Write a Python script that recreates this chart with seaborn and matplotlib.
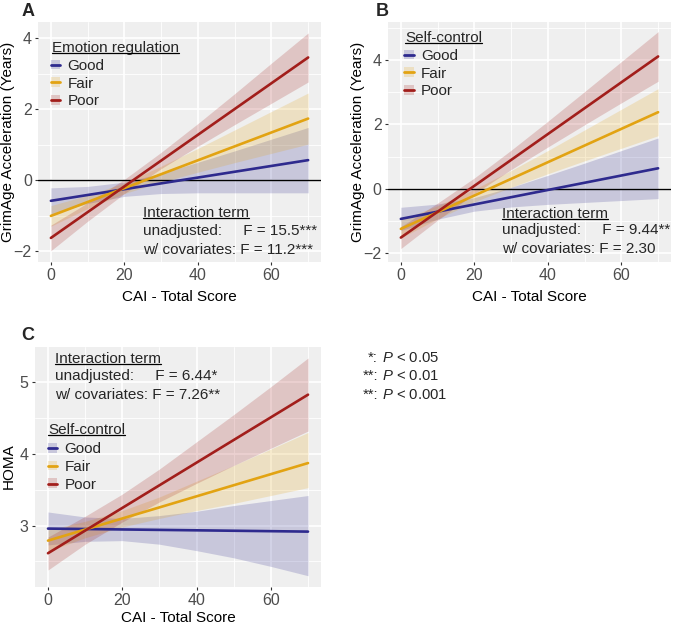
import numpy as np
import pandas as pd
import matplotlib
matplotlib.use("Agg")
import matplotlib.pyplot as plt
import seaborn as sns
from matplotlib.patches import Patch
from matplotlib.lines import Line2D
from matplotlib.ticker import FixedLocator

# ---------------- data ----------------
groups = ["Good", "Fair", "Poor"]
palette = {"Good": "#2E2A8E", "Fair": "#E2A312", "Poor": "#A21E1B"}

x_line = [0, 70]
x_band = [0, 10, 20, 30, 40, 50, 60, 70]

# Panel A: Emotion regulation -> GrimAge acceleration
a_fit = {"Good": [-0.575, 0.57], "Fair": [-1.00, 1.74], "Poor": [-1.62, 3.46]}
a_lo = {"Good": [-0.95, -0.65, -0.45, -0.37, -0.35, -0.35, -0.35, -0.35],
        "Fair": [-1.29, -0.79, -0.37, -0.05, 0.23, 0.50, 0.76, 1.02],
        "Poor": [-1.98, -1.15, -0.37, 0.33, 0.96, 1.57, 2.17, 2.77]}
a_hi = {"Good": [-0.21, -0.17, -0.05, 0.20, 0.51, 0.83, 1.16, 1.49],
        "Fair": [-0.71, -0.42, -0.07, 0.40, 0.90, 1.42, 1.94, 2.46],
        "Poor": [-1.26, -0.63, 0.03, 0.79, 1.60, 2.44, 3.30, 4.15]}

# Panel B: Self-control -> GrimAge acceleration
b_fit = {"Good": [-0.93, 0.64], "Fair": [-1.24, 2.38], "Poor": [-1.51, 4.11]}
b_lo = {"Good": [-1.29, -0.94, -0.69, -0.56, -0.48, -0.42, -0.36, -0.30],
        "Fair": [-1.52, -0.93, -0.40, 0.05, 0.47, 0.87, 1.26, 1.65],
        "Poor": [-1.85, -0.97, -0.15, 0.60, 1.30, 1.99, 2.67, 3.34]}
b_hi = {"Good": [-0.57, -0.47, -0.27, 0.05, 0.42, 0.80, 1.19, 1.58],
        "Fair": [-0.96, -0.52, -0.01, 0.57, 1.19, 1.83, 2.47, 3.11],
        "Poor": [-1.17, -0.44, 0.34, 1.20, 2.10, 3.02, 3.95, 4.88]}

# Panel C: Self-control -> HOMA
c_fit = {"Good": [2.958, 2.916], "Fair": [2.79, 3.873], "Poor": [2.614, 4.828]}
c_lo = {"Good": [2.73, 2.78, 2.79, 2.74, 2.65, 2.55, 2.43, 2.30],
        "Fair": [2.64, 2.83, 2.98, 3.10, 3.21, 3.31, 3.42, 3.53],
        "Poor": [2.38, 2.74, 3.05, 3.33, 3.59, 3.84, 4.08, 4.32]}
c_hi = {"Good": [3.19, 3.12, 3.10, 3.14, 3.20, 3.28, 3.35, 3.42],
        "Fair": [2.94, 3.06, 3.21, 3.40, 3.62, 3.84, 4.07, 4.30],
        "Poor": [2.84, 3.13, 3.44, 3.79, 4.17, 4.55, 4.94, 5.34]}

x_ticks = [0, 20, 40, 60]
x_minor = [10, 30, 50, 70]
ab_yticks = [-2, 0, 2, 4]
c_yticks = [3, 4, 5]

xlabel = "CAI - Total Score"
ylabel_ab = "GrimAge Acceleration (Years)"
ylabel_c = "HOMA"

# ---------------- style ----------------
sns.set_theme(style="darkgrid")
plt.rcParams["font.family"] = ["Liberation Sans", "DejaVu Sans"]
plt.rcParams["mathtext.fontset"] = "custom"
plt.rcParams["mathtext.rm"] = "Liberation Sans"
plt.rcParams["mathtext.it"] = "Liberation Sans:italic"

BG = "#EFEFEF"
FS = 11

fig = plt.figure(figsize=(6.73, 6.27), dpi=100)
axA = fig.add_axes([0.0565, 0.582, 0.4205, 0.383])
axB = fig.add_axes([0.5765, 0.582, 0.4205, 0.383])
axC = fig.add_axes([0.052, 0.0643, 0.425, 0.383])


def draw_panel(ax, fit, lo, hi, ylim, yticks, yminor, hline, ylabel, ylab_x, xpad):
    ax.set_facecolor(BG)
    for g in groups:
        ax.fill_between(x_band, lo[g], hi[g], color=palette[g], alpha=0.2,
                        linewidth=0, zorder=2)
    if hline:
        ax.axhline(0, color="black", lw=1.0, zorder=2.5)
    rows = []
    for g in groups:
        for xv, yv in zip(x_line, fit[g]):
            rows.append({"x": xv, "y": yv, "group": g})
    df = pd.DataFrame(rows)
    sns.lineplot(data=df, x="x", y="y", hue="group", hue_order=groups,
                 palette=palette, lw=1.9, legend=False, ax=ax, zorder=3)
    ax.set_xlim(-3.5, 73.5)
    ax.set_ylim(*ylim)
    ax.xaxis.set_major_locator(FixedLocator(x_ticks))
    ax.xaxis.set_minor_locator(FixedLocator(x_minor))
    ax.yaxis.set_major_locator(FixedLocator(yticks))
    ax.yaxis.set_minor_locator(FixedLocator(yminor))
    ax.grid(which="major", color="white", lw=1.2)
    ax.grid(which="minor", color="white", lw=0.6)
    ax.set_axisbelow(True)
    for s in ax.spines.values():
        s.set_visible(False)
    ax.tick_params(which="major", length=2.5, width=0.8, color="#333333",
                   labelsize=FS + 0.5, labelcolor="#4D4D4D", pad=2,
                   bottom=True, left=True)
    ax.tick_params(which="minor", length=0)
    ax.set_xlabel(xlabel, fontsize=FS, color="black", labelpad=xpad)
    ax.set_ylabel(ylabel, fontsize=FS, color="black")
    ax.yaxis.set_label_coords(ylab_x, 0.5)


draw_panel(axA, a_fit, a_lo, a_hi, (-2.30, 4.46), ab_yticks, [-1, 1, 3], True,
           ylabel_ab, -0.080, 5)
draw_panel(axB, b_fit, b_lo, b_hi, (-2.27, 5.18), ab_yticks, [-1, 1, 3, 5], True,
           ylabel_ab, -0.082, 5)
draw_panel(axC, c_fit, c_lo, c_hi, (2.147, 5.50), c_yticks, [2.5, 3.5, 4.5], False,
           ylabel_c, -0.068, 2.5)

underline = []


def add_legend(ax, title, title_xy, anchor):
    t = ax.text(title_xy[0], title_xy[1], title, transform=ax.transAxes,
                fontsize=FS, ha="left", va="center_baseline", zorder=5)
    underline.append(t)
    handles = [(Patch(facecolor=palette[g], alpha=0.2, lw=0),
                Line2D([], [], color=palette[g], lw=2.0)) for g in groups]
    leg = ax.legend(handles, groups, loc="upper left",
                    bbox_to_anchor=anchor, frameon=False, fontsize=FS,
                    handlelength=0.6, handleheight=0.6,
                    handletextpad=0.5, labelspacing=0.24, borderaxespad=0,
                    borderpad=0)
    return leg


add_legend(axA, "Emotion regulation", (0.048, 0.897), (0.045, 0.846))
add_legend(axB, "Self-control", (0.060, 0.939), (0.058, 0.888))
add_legend(axC, "Self-control", (0.0465, 0.657), (0.044, 0.601))


def add_terms(ax, x, ys, lines):
    t = ax.text(x, ys[0], "Interaction term", transform=ax.transAxes,
                fontsize=FS, va="center_baseline", ha="left", zorder=5)
    underline.append(t)
    for yy, s in zip(ys[1:], lines):
        ax.text(x, yy, s, transform=ax.transAxes, fontsize=FS,
                va="center_baseline", ha="left", zorder=5)


add_terms(axA, 0.37, [0.2125, 0.135, 0.058],
          ["unadjusted:     F = 15.5***", "w/ covariates: F = 11.2***"])
add_terms(axB, 0.404, [0.207, 0.140, 0.060],
          ["unadjusted:     F = 9.44**", "w/ covariates: F = 2.30"])
add_terms(axC, 0.07, [0.954, 0.885, 0.806],
          ["unadjusted:     F = 6.44*", "w/ covariates: F = 7.26**"])

# panel letters
for lab, (px, py) in zip(["A", "B", "C"], [(28, 12), (382, 12), (28, 336)]):
    fig.text(px / 673, 1 - py / 627, lab, fontsize=13, fontweight="bold",
             ha="center", va="center")

# significance key
stars = ["*:", "**:", "**:"]
pvals = [r"$P$ < 0.05", r"$P$ < 0.01", r"$P$ < 0.001"]
for i, (st, pv) in enumerate(zip(stars, pvals)):
    yy = 1 - [356, 375, 393.3][i] / 627
    fig.text(378 / 673, yy, st, fontsize=FS - 0.3, ha="right", va="center_baseline")
    fig.text(381.5 / 673, yy, pv, fontsize=FS - 0.3, ha="left", va="center_baseline")

# underline titles
fig.canvas.draw()
rend = fig.canvas.get_renderer()
inv = fig.transFigure.inverted()
for t in underline:
    bb = t.get_window_extent(rend)
    ypix = bb.y0 + 2.0
    (x0, y0), (x1, _) = inv.transform([(bb.x0, ypix), (bb.x1, ypix)])
    fig.add_artist(Line2D([x0, x1], [y0, y0], color="black", lw=0.9,
                          transform=fig.transFigure))

fig.savefig("out.png", dpi=100)
